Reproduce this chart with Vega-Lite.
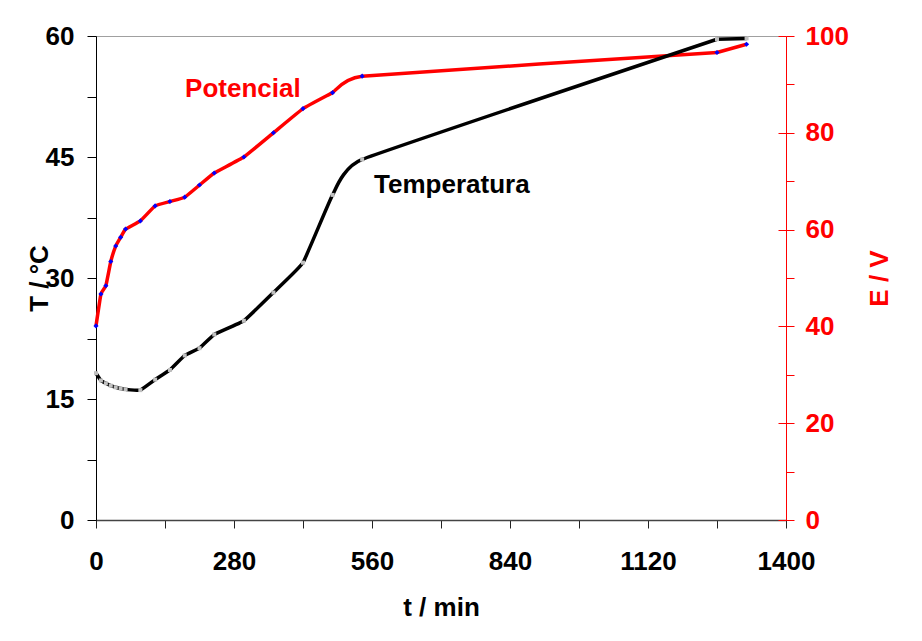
{
  "$schema": "https://vega.github.io/schema/vega-lite/v6.json",
  "width": 690,
  "height": 484,
  "autosize": {"type": "none"},
  "padding": {"left": 96, "top": 36, "right": 136, "bottom": 121},
  "background": "white",
  "config": {
    "view": {"stroke": "#a0a0a0", "strokeWidth": 1},
    "font": "Liberation Sans",
    "axis": {
      "labelFont": "Liberation Sans",
      "labelFontSize": 26,
      "labelFontWeight": "bold",
      "titleFont": "Liberation Sans",
      "titleFontSize": 26,
      "titleFontWeight": "bold",
      "grid": false,
      "labelOverlap": false,
      "labelFlush": false,
      "tickWidth": 1,
      "domainWidth": 1
    }
  },
  "datasets": {
    "series": [
      {"t": 0, "T": 18.2, "E": 40.1},
      {"t": 10, "T": 17.3, "E": 46.7},
      {"t": 20, "T": 16.95, "E": 48.4},
      {"t": 30, "T": 16.65, "E": 53.4},
      {"t": 40, "T": 16.45, "E": 56.6},
      {"t": 50, "T": 16.3, "E": 58.4},
      {"t": 60, "T": 16.2, "E": 60.1},
      {"t": 90, "T": 16.1, "E": 61.8},
      {"t": 120, "T": 17.4, "E": 64.9},
      {"t": 150, "T": 18.6, "E": 65.8},
      {"t": 180, "T": 20.4, "E": 66.7},
      {"t": 210, "T": 21.3, "E": 69.2},
      {"t": 240, "T": 23.0, "E": 71.7},
      {"t": 300, "T": 24.7, "E": 75.0},
      {"t": 360, "T": 28.2, "E": 80.0},
      {"t": 420, "T": 31.9, "E": 85.0},
      {"t": 480, "T": 40.3, "E": 88.3},
      {"t": 540, "T": 44.7, "E": 91.7},
      {"t": 1260, "T": 59.6, "E": 96.6},
      {"t": 1320, "T": 59.7, "E": 98.3}
    ],
    "labelE": [{"t": 298, "E": 87.4, "label": "Potencial"}],
    "labelT": [{"t": 722, "T": 40.5, "label": "Temperatura"}]
  },
  "encoding": {
    "x": {
      "field": "t",
      "type": "quantitative",
      "scale": {"domain": [0, 1400], "nice": false, "zero": false},
      "axis": {
        "title": "t / min",
        "format": "d",
        "values": [0, 140, 280, 420, 560, 700, 840, 980, 1120, 1260, 1400],
        "labelExpr": "datum.value % 280 === 0 ? datum.label : ''",
        "tickSize": 8,
        "tickColor": "#222222",
        "domainColor": "#444444",
        "domainWidth": 1.5,
        "labelColor": "#000000",
        "titleColor": "#000000",
        "labelPadding": 20,
        "titlePadding": 20
      }
    }
  },
  "layer": [
    {
      "data": {"name": "series"},
      "encoding": {
        "y": {
          "field": "E",
          "type": "quantitative",
          "scale": {"domain": [0, 100], "nice": false},
          "axis": {
            "orient": "right",
            "title": "E / V",
            "values": [0, 10, 20, 30, 40, 50, 60, 70, 80, 90, 100],
            "labelExpr": "datum.value % 20 === 0 ? datum.label : ''",
            "tickSize": 8,
            "tickColor": "#ff0000",
            "domainColor": "#ff0000",
            "labelColor": "#ff0000",
            "titleColor": "#ff0000",
            "labelPadding": 11,
            "titleAngle": 270,
            "titleBaseline": "top",
            "titlePadding": 18
          }
        }
      },
      "layer": [
        {
          "transform": [{"filter": "datum.t <= 1260"}],
          "mark": {"type": "line", "color": "#ff0000", "strokeWidth": 3.5, "interpolate": "cardinal", "tension": 0.7}
        },
        {
          "transform": [{"filter": "datum.t >= 1260"}],
          "mark": {"type": "line", "color": "#ff0000", "strokeWidth": 3.5, "interpolate": "linear"}
        },
        {"mark": {"type": "point", "shape": "diamond", "filled": true, "color": "#0000ff", "size": 26, "opacity": 1}},
        {
          "data": {"name": "labelE"},
          "mark": {"type": "text", "font": "Liberation Sans", "fontSize": 26, "fontWeight": "bold", "color": "#ff0000", "align": "center", "baseline": "alphabetic"},
          "encoding": {"text": {"field": "label"}}
        }
      ]
    },
    {
      "data": {"name": "series"},
      "encoding": {
        "y": {
          "field": "T",
          "type": "quantitative",
          "scale": {"domain": [0, 60], "nice": false},
          "axis": {
            "orient": "left",
            "title": "T / °C",
            "values": [0, 7.5, 15, 22.5, 30, 37.5, 45, 52.5, 60],
            "labelExpr": "datum.value % 15 === 0 ? datum.label : ''",
            "tickSize": 9,
            "tickColor": "#000000",
            "domainColor": "#000000",
            "labelColor": "#000000",
            "titleColor": "#000000",
            "labelPadding": 13,
            "titlePadding": -7
          }
        }
      },
      "layer": [
        {
          "transform": [{"filter": "datum.t <= 1260"}],
          "mark": {"type": "line", "color": "#000000", "strokeWidth": 3.5, "interpolate": "cardinal", "tension": 0.7}
        },
        {
          "transform": [{"filter": "datum.t >= 1260"}],
          "mark": {"type": "line", "color": "#000000", "strokeWidth": 3.5, "interpolate": "linear"}
        },
        {"mark": {"type": "point", "shape": "square", "filled": true, "color": "#c0c0c0", "size": 16, "opacity": 1}},
        {
          "data": {"name": "labelT"},
          "mark": {"type": "text", "font": "Liberation Sans", "fontSize": 26, "fontWeight": "bold", "color": "#000000", "align": "center", "baseline": "alphabetic"},
          "encoding": {"text": {"field": "label"}}
        }
      ]
    },
    {
      "data": {"name": "series"},
      "mark": {"type": "point", "opacity": 0},
      "encoding": {
        "y": {
          "field": "E",
          "type": "quantitative",
          "scale": {"domain": [0, 100], "nice": false},
          "axis": {
            "orient": "right",
            "offset": -8,
            "title": null,
            "values": [0, 20, 40, 60, 80, 100],
            "labels": false,
            "domain": false,
            "tickSize": 8,
            "tickColor": "#ff0000"
          }
        }
      }
    }
  ],
  "resolve": {"scale": {"y": "independent"}}
}
